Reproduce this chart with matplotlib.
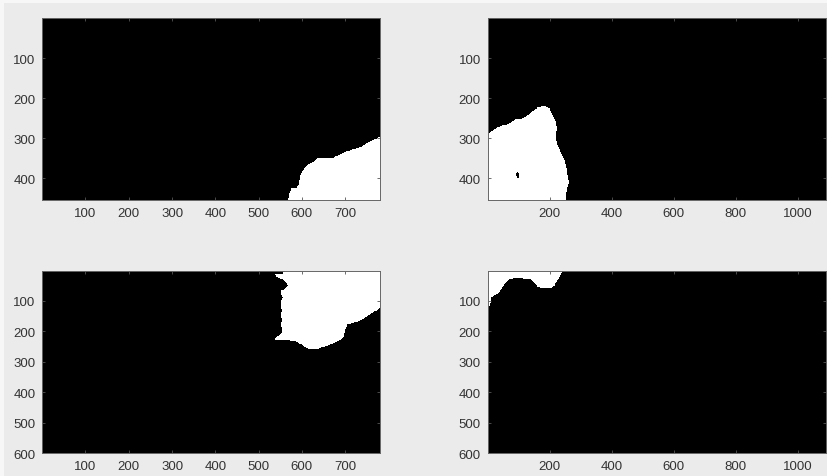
import numpy as np
import matplotlib
matplotlib.use("Agg")
import matplotlib.pyplot as plt
from matplotlib.path import Path
from matplotlib.patches import Rectangle

plt.rcParams['font.family'] = ['Liberation Sans', 'DejaVu Sans']

# Image sizes (width, height) of the four tiles
tl_size = (780, 454)
tr_size = (1090, 454)
bl_size = (780, 600)
br_size = (1090, 600)

# Tick values
x_ticks_left = [100, 200, 300, 400, 500, 600, 700]
x_ticks_right = [200, 400, 600, 800, 1000]
y_ticks_top = [100, 200, 300, 400]
y_ticks_bottom = [100, 200, 300, 400, 500, 600]

# White-region outlines (image coordinates: x = column, y = row)
tl_x = [568, 571, 576, 588, 594, 597, 603, 611, 626, 637, 649, 672, 688, 703,
        718, 738, 749, 765, 776, 781, 781]
tl_y = [455, 440, 426, 424, 413, 392, 380, 369, 359, 349, 349, 349, 341, 334,
        328, 322, 313, 305, 299, 297, 455]

tr_x = [-1, -1, 10, 31, 47, 63, 79, 90, 111, 128, 144, 160, 181, 198, 208,
        219, 222, 219, 222, 233, 246, 254, 257, 262, 254, 251]
tr_y = [455, 289, 284, 274, 268, 266, 259, 253, 251, 244, 233, 224, 219, 226,
        243, 259, 276, 293, 313, 334, 355, 376, 401, 409, 426, 455]

# small dark hole inside the top-right region
hole_x = [92, 94, 98, 100, 99, 95, 92]
hole_y = [388, 383, 384, 391, 398, 400, 395]

bl_x = [564, 556, 538, 540, 556, 564, 568, 560, 551, 552, 556, 552, 551, 554,
        551, 554, 552, 554, 552, 537, 540, 567, 587, 598, 610, 621, 637, 656,
        675, 691, 698, 700, 706, 722, 737, 752, 764, 779, 781, 781]
bl_y = [-1, 12, 14, 23, 31, 42, 52, 63, 69, 80, 91, 102, 118, 134,
        145, 162, 178, 200, 211, 224, 231, 231, 235, 244, 255, 261, 259, 250,
        239, 228, 217, 195, 179, 173, 165, 151, 140, 127, 125, -1]

br_x = [-1, -1, 7, 10, 12, 20, 31, 40, 47, 58, 69, 85, 106, 138, 149, 160,
        176, 203, 214, 222, 233, 241]
br_y = [-1, 118, 118, 102, 91, 82, 80, 69, 56, 41, 31, 27, 27, 31, 41, 56,
        60, 60, 53, 36, 20, -1]


def make_mask(size, xs, ys, holes=()):
    w, h = size
    cols, rows = np.meshgrid(np.arange(1, w + 1), np.arange(1, h + 1))
    pts = np.column_stack([cols.ravel(), rows.ravel()])
    m = Path(np.column_stack([xs, ys])).contains_points(pts)
    for hx, hy in holes:
        m &= ~Path(np.column_stack([hx, hy])).contains_points(pts)
    return m.reshape(h, w).astype(float)


fig = plt.figure(figsize=(8.27, 4.77), dpi=100, facecolor='#ebebeb')
# white frame strip of the screenshot (top and left)
fig.add_artist(Rectangle((0, 1 - 4 / 477), 1, 4 / 477, transform=fig.transFigure,
                         facecolor='#f7f7f7', edgecolor='none'))
fig.add_artist(Rectangle((0, 0), 4 / 827, 1, transform=fig.transFigure,
                         facecolor='#f7f7f7', edgecolor='none'))

W, H = 827, 477
positions = [
    (42.4 / W, 1 - 201 / H, 337.6 / W, 181.7 / H),
    (487.7 / W, 1 - 201 / H, 338.3 / W, 181.7 / H),
    (42.4 / W, 1 - 454.3 / H, 337.6 / W, 182.6 / H),
    (487.7 / W, 1 - 454.3 / H, 338.3 / W, 182.6 / H),
]
tiles = [
    (tl_size, tl_x, tl_y, (), x_ticks_left, y_ticks_top),
    (tr_size, tr_x, tr_y, ((hole_x, hole_y),), x_ticks_right, y_ticks_top),
    (bl_size, bl_x, bl_y, (), x_ticks_left, y_ticks_bottom),
    (br_size, br_x, br_y, (), x_ticks_right, y_ticks_bottom),
]

for pos, (size, xs, ys, holes, xt, yt) in zip(positions, tiles):
    ax = fig.add_axes(pos)
    mask = make_mask(size, xs, ys, holes)
    w, h = size
    ax.imshow(mask, cmap='gray', vmin=0, vmax=1, interpolation='nearest',
              extent=(0.5, w + 0.5, h + 0.5, 0.5), aspect='auto')
    ax.set_xlim(0.5, w + 0.5)
    ax.set_ylim(h + 0.5, 0.5)
    ax.set_xticks(xt)
    ax.set_yticks(yt)
    ax.tick_params(direction='in', length=2.5, width=0.6, colors='#555555',
                   labelcolor='#333333', labelsize=9.5, top=True, right=True,
                   pad=5)
    for s in ax.spines.values():
        s.set_color('#666666')
        s.set_linewidth(0.7)

fig.savefig('out.png', dpi=100, facecolor=fig.get_facecolor())
